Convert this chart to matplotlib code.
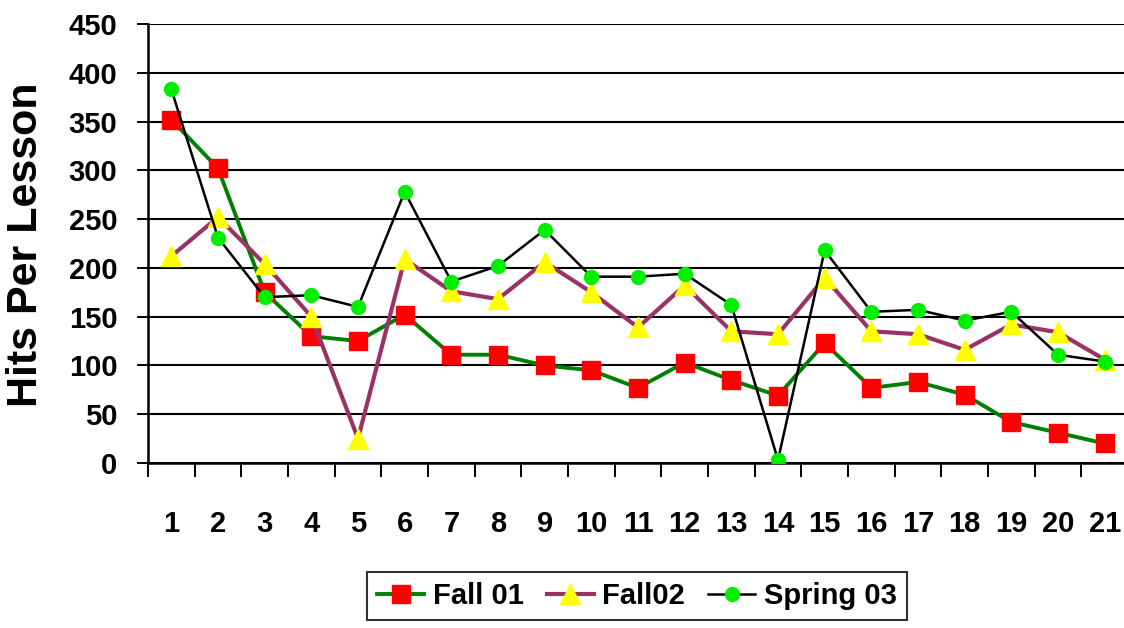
import numpy as np
import matplotlib
matplotlib.use("Agg")
from matplotlib import pyplot as plt

# 课程编号
lessons = list(range(1, 22))

# 各学期每课点击量
fall_01 = [352, 302, 175, 130, 125, 152, 111, 111, 100, 95, 77, 103, 85, 69,
           123, 77, 83, 70, 42, 31, 20]
fall_02 = [212, 252, 204, 150, 25, 209, 176, 168, 206, 175, 139, 182, 135, 132,
           190, 135, 132, 116, 142, 134, 106]
spring_03 = [383, 231, 170, 172, 160, 278, 186, 202, 239, 191, 191, 194, 162, 3,
             218, 155, 157, 146, 155, 111, 104]

y_ticks = list(range(0, 451, 50))

plt.rcParams['font.family'] = ['Liberation Sans', 'DejaVu Sans']
plt.rcParams['font.weight'] = 'bold'

fig = plt.figure(figsize=(11.24, 6.28), dpi=100)
ax = fig.add_axes([148 / 1124, 165 / 628, 980 / 1124, 439 / 628])

ax.plot(lessons, fall_01, color='#008000', linewidth=2.8, marker='s',
        markersize=13.5, markerfacecolor='#ff0000', markeredgecolor='#ff0000',
        label='Fall 01', zorder=3)
ax.plot(lessons, fall_02, color='#993366', linewidth=3.0, marker='^',
        markersize=14, markerfacecolor='#ffff00', markeredgecolor='#ffff00',
        label='Fall02', zorder=4)
ax.plot(lessons, spring_03, color='black', linewidth=1.8, marker='o',
        markersize=10, markerfacecolor='#00ee00', markeredgecolor='#00ee00',
        label='Spring 03', zorder=5)

# 坐标轴设置
ax.set_xlim(0.5, 21.5)
ax.set_ylim(0, 450)
ax.set_yticks(y_ticks)
ax.set_xticks(lessons)
ax.set_xticks(np.arange(0.5, 22, 1), minor=True)
ax.tick_params(axis='x', which='major', length=0, pad=34, labelsize=21)
ax.tick_params(axis='x', which='minor', length=10, width=1.4, direction='out')
ax.tick_params(axis='y', length=8, width=1.4, direction='out', pad=14, labelsize=21)
for lab in ax.get_xticklabels() + ax.get_yticklabels():
    lab.set_fontweight('bold')

ax.grid(True, axis='y', color='black', linewidth=1.5, zorder=1)
ax.set_axisbelow(True)
for s in ['top', 'right']:
    ax.spines[s].set_visible(False)
ax.spines['left'].set_linewidth(1.8)
ax.spines['bottom'].set_linewidth(1.8)

fig.text(26 / 1124, 0.61, 'Hits Per Lesson', rotation=90, ha='center',
         va='center', fontsize=31, fontweight='bold')

leg = fig.legend(loc='upper center', bbox_to_anchor=(637 / 1124, 56 / 628),
                 ncol=3, fontsize=21, frameon=True, fancybox=False,
                 handlelength=1.6, handletextpad=0.3, columnspacing=0.8,
                 borderpad=0.35, borderaxespad=0)
leg.get_frame().set_edgecolor('black')
leg.get_frame().set_linewidth(1.5)
for t in leg.get_texts():
    t.set_fontweight('bold')

fig.savefig('out.png', dpi=100)
